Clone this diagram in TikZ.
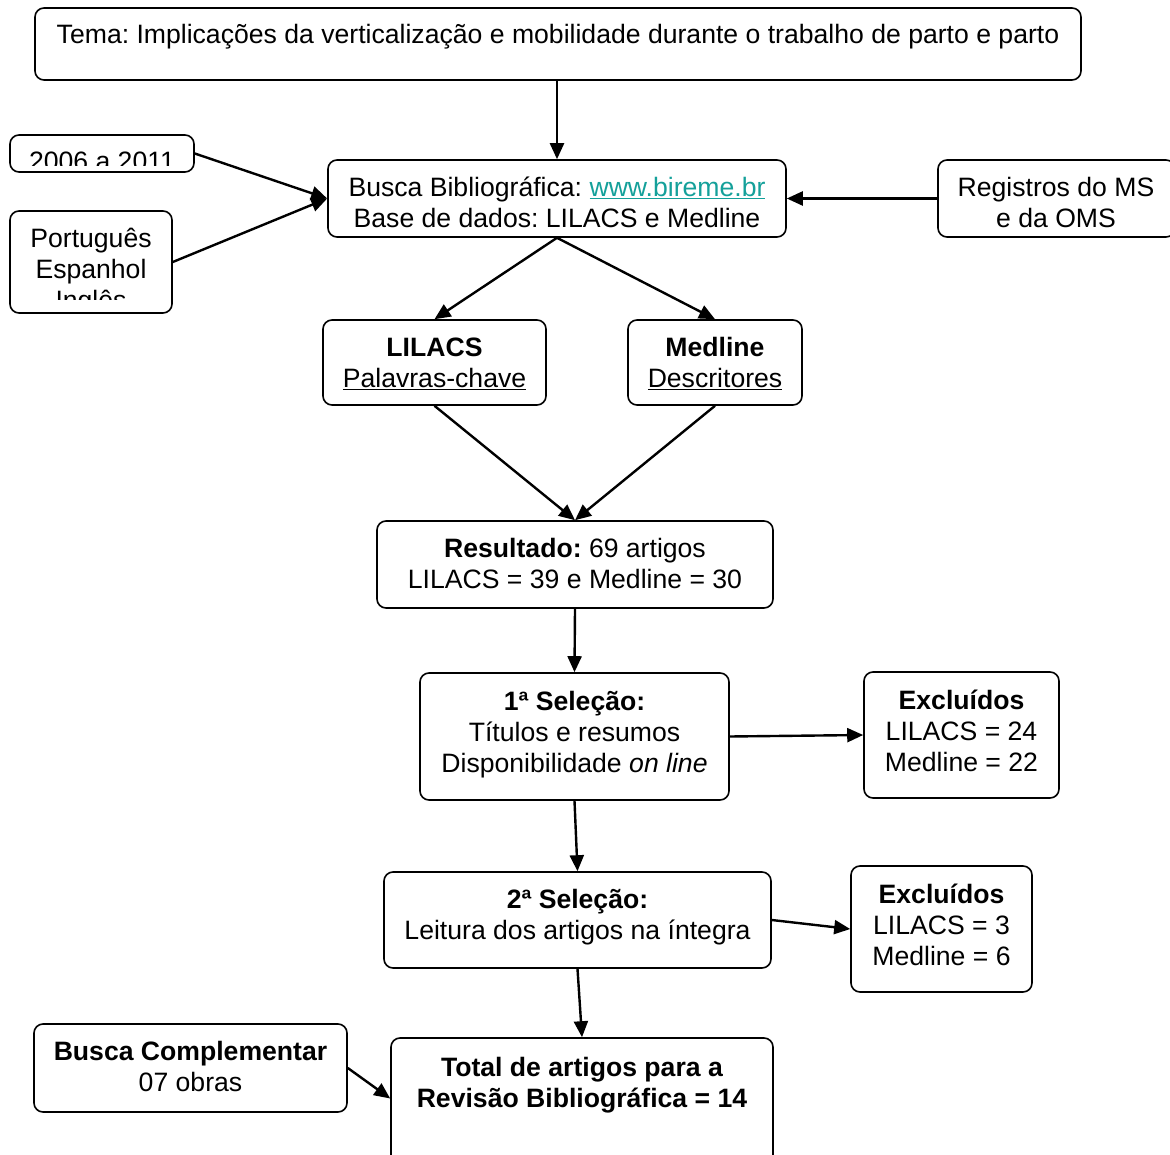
\documentclass[tikz,border=0pt]{standalone}
\usepackage{fontspec}
\setmainfont{Liberation Sans}
\usetikzlibrary{arrows.meta,calc}
\definecolor{linkc}{HTML}{14A09A}
\frenchspacing
\begin{document}
\begin{tikzpicture}[x=1pt,y=-1pt,
  box/.style={draw, line width=1.6pt, rounded corners=9pt, inner sep=0pt},
  conn/.style={line width=2.4pt, -{Triangle[length=16pt,width=14pt]}},
  txt/.style={align=center, inner sep=0pt, font=\fontsize{26.6}{31}\selectfont}]
\useasboundingbox (0,0) rectangle (1170,1155);
% boxes
\node[box, minimum width=1046pt, minimum height=72pt] (tema) at (558,44) {};
\node[box, minimum width=184pt, minimum height=37pt] (d2006) at (102,153.5) {};
\node[box, minimum width=162pt, minimum height=102pt] (lang) at (91,262) {};
\node[box, minimum width=458pt, minimum height=77pt] (busca) at (557,198.5) {};
\node[box, minimum width=237pt, minimum height=77pt] (reg) at (1056.5,198.5) {};
\node[box, minimum width=223pt, minimum height=85pt] (lil) at (434.5,362.5) {};
\node[box, minimum width=174pt, minimum height=85pt] (med) at (715,362.5) {};
\node[box, minimum width=396pt, minimum height=87pt] (res) at (575,564.5) {};
\node[box, minimum width=309pt, minimum height=127pt] (sel1) at (574.5,736.5) {};
\node[box, minimum width=195pt, minimum height=126pt] (exc1) at (961.5,735) {};
\node[box, minimum width=387pt, minimum height=96pt] (sel2) at (577.5,920) {};
\node[box, minimum width=181pt, minimum height=126pt] (exc2) at (941.5,929) {};
\node[box, minimum width=313pt, minimum height=88pt] (bc) at (190.5,1068) {};
\node[box, minimum width=382pt, minimum height=137pt] (tot) at (582,1106.5) {};
% texts
\node[txt] (t-tema) at (558,37) {Tema: Implicações da verticalização e mobilidade durante o trabalho de parto e parto};
\begin{scope}
\clip (10,135) rectangle (194,166);
\node[txt] (t-d2006) at (102,161) {2006 a 2011};
\end{scope}
\begin{scope}
\clip (10,211) rectangle (172,300);
\node[txt] (t-lang) at (91,272) {Português\\Espanhol\\Inglês};
\end{scope}
\node[txt] (t-busca) at (557,202) {Busca Bibliográfica: \textcolor{linkc}{\underline{www.bireme.br}}\\Base de dados: LILACS e Medline};
\node[txt] (t-reg) at (1056,202) {Registros do MS\\e da OMS};
\node[txt] (t-lil) at (434.5,363.5) {\textbf{LILACS}\\\underline{Palavras-chave}};
\node[txt] (t-med) at (715,363.5) {\textbf{Medline}\\\underline{Descritores}};
\node[txt] (t-res) at (575,563.5) {\textbf{Resultado:} 69 artigos\\LILACS = 39 e Medline = 30};
\node[txt] (t-sel1) at (574.5,735) {\textbf{1ª Seleção:}\\Títulos e resumos\\Disponibilidade \textit{on line}};
\node[txt] (t-exc1) at (961.5,731) {\textbf{Excluídos}\\LILACS = 24\\Medline = 22};
\node[txt] (t-sel2) at (577.5,917.5) {\textbf{2ª Seleção:}\\Leitura dos artigos na íntegra};
\node[txt] (t-exc2) at (941.5,924.5) {\textbf{Excluídos}\\LILACS = 3\\Medline = 6};
\node[txt] (t-bc) at (190.5,1066.5) {\textbf{Busca Complementar}\\07 obras};
\node[txt] (t-tot) at (582,1085.5) {\textbf{Total de artigos para a}\\\textbf{Revisão Bibliográfica = 14}};
% connectors
\draw[conn] (busca.north |- tema.south) -- (busca.north);
\draw[conn] (d2006.east) -- (busca.west);
\draw[conn] (lang.east) -- (busca.west);
\draw[conn] (reg.west) -- (busca.east);
\draw[conn] (busca.south) -- (lil.north);
\draw[conn] (busca.south) -- (med.north);
\draw[conn] (lil.south) -- (res.north);
\draw[conn] (med.south) -- (res.north);
\draw[conn] (res.south) -- (sel1.north);
\draw[conn] (sel1.east) -- (exc1.west);
\draw[conn] (sel1.south) -- (sel2.north);
\draw[conn] (sel2.east) -- (exc2.west);
\draw[conn] (sel2.south) -- (tot.north);
\draw[conn] (bc.east) -- ([yshift=8pt]tot.west);
\end{tikzpicture}
\end{document}
